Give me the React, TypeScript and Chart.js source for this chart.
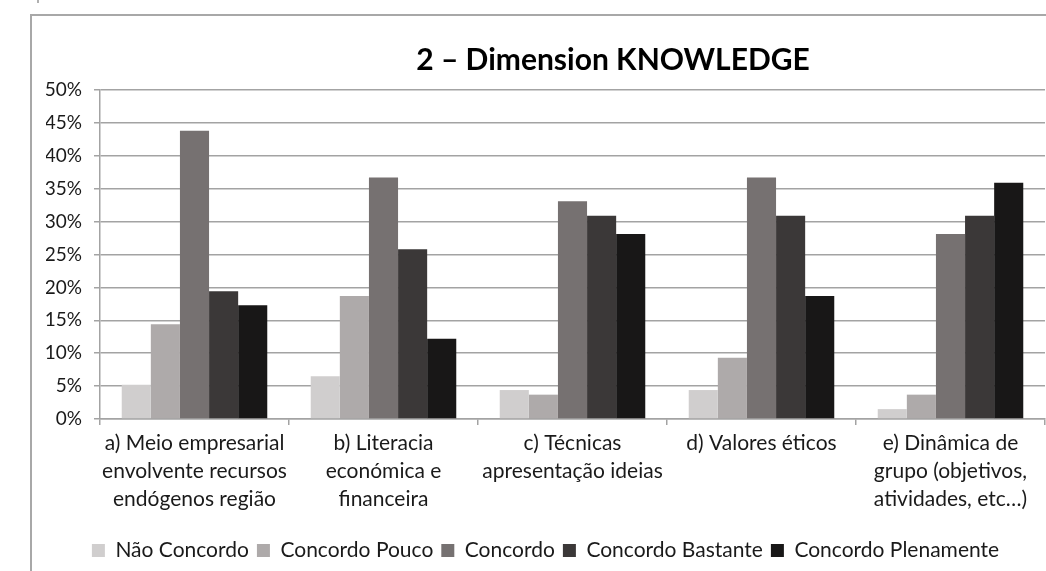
import React, { useEffect, useRef } from "react";
import { Chart, registerables } from "chart.js";

Chart.register(...registerables);

// ---- data ----
const categories: string[][] = [
  ["a) Meio empresarial", "envolvente recursos", "endógenos região"],
  ["b) Literacia", "económica e", "financeira"],
  ["c) Técnicas", "apresentação ideias"],
  ["d) Valores éticos"],
  ["e) Dinâmica de", "grupo (objetivos,", "atividades, etc…)"],
];
const seriesNames = [
  "Não Concordo",
  "Concordo Pouco",
  "Concordo",
  "Concordo Bastante",
  "Concordo Plenamente",
];
const naoConcordo = [5.2, 6.5, 4.4, 4.4, 1.5];
const concordoPouco = [14.4, 18.7, 3.7, 9.3, 3.7];
const concordo = [43.8, 36.7, 33.1, 36.7, 28.1];
const concordoBastante = [19.4, 25.8, 30.9, 30.9, 30.9];
const concordoPlenamente = [17.3, 12.2, 28.1, 18.7, 35.9];
const seriesValues = [naoConcordo, concordoPouco, concordo, concordoBastante, concordoPlenamente];
const seriesColors = ["#d0cece", "#aeaaaa", "#767171", "#3b3838", "#181717"];
const yMin = 0;
const yMax = 50;
const yStep = 5;
const titleText = "2 – Dimension KNOWLEDGE";

const FONT = "Lato, 'Open Sans', sans-serif";
const TEXT = "#1a1a1a";
const GRID = "#a3a3a3";
const TITLE_CENTER_X = 613;

const titleShift = {
  id: "titleShift",
  afterLayout(chart: any) {
    const t = chart.titleBlock;
    if (t) {
      const dx = TITLE_CENTER_X - (t.left + t.right) / 2;
      t.left += dx;
      t.right += dx;
    }
  },
};

export default function App() {
  const ref = useRef<HTMLCanvasElement | null>(null);

  useEffect(() => {
    if (!ref.current) return;
    const chart = new Chart(ref.current, {
      type: "bar",
      data: {
        labels: categories,
        datasets: seriesNames.map((name, i) => ({
          label: name,
          data: seriesValues[i],
          backgroundColor: seriesColors[i],
          borderWidth: 0,
          categoryPercentage: 0.77,
          barPercentage: 1,
        })),
      },
      options: {
        responsive: false,
        animation: false,
        devicePixelRatio: 1,
        layout: { padding: { left: 46, right: 1, top: 0, bottom: 0 } },
        plugins: {
          title: {
            display: true,
            text: titleText,
            color: "#000",
            font: { family: FONT, size: 30, weight: "bold", lineHeight: 1.2 },
            padding: { top: 42.5, bottom: 11.5 },
          },
          legend: {
            display: true,
            position: "bottom",
            align: "center",
            labels: {
              boxWidth: 13,
              boxHeight: 13,
              color: TEXT,
              padding: 8,
              font: { family: FONT, size: 21 },
            },
          },
          tooltip: { enabled: false },
        },
        scales: {
          x: {
            afterFit: (s: any) => {
              s.height = 113;
            },
            grid: {
              display: true,
              offset: true,
              drawOnChartArea: false,
              drawTicks: true,
              tickLength: 6,
              color: GRID,
              lineWidth: 1.5,
            },
            border: { display: true, color: GRID, width: 1.5 },
            ticks: {
              color: TEXT,
              padding: 4,
              maxRotation: 0,
              autoSkip: false,
              font: { family: FONT, size: 21, lineHeight: 1.33 },
            },
          },
          y: {
            min: yMin,
            max: yMax,
            afterFit: (s: any) => {
              s.width = 54;
            },
            grid: {
              color: GRID,
              lineWidth: 1.5,
              tickLength: 6,
              drawTicks: true,
            },
            border: { display: true, color: GRID, width: 1.5 },
            ticks: {
              stepSize: yStep,
              color: TEXT,
              padding: 12,
              font: { family: FONT, size: 19 },
              callback: (v: any) => v + "%",
            },
          },
        },
      },
      plugins: [titleShift],
    });
    return () => chart.destroy();
  }, []);

  return (
    <div
      style={{
        position: "fixed",
        left: 0,
        top: 0,
        width: 1046,
        height: 571,
        overflow: "hidden",
        background: "#fff",
      }}
    >
      <div
        style={{
          position: "absolute",
          left: 37,
          top: 0,
          width: 2,
          height: 3,
          background: "#b0b0b0",
        }}
      />
      <div
        style={{
          position: "absolute",
          left: 30,
          top: 14,
          width: 1200,
          height: 700,
          border: "2px solid #a8a8a8",
          boxSizing: "border-box",
        }}
      />
      <canvas
        ref={ref}
        width={1046}
        height={571}
        style={{ position: "absolute", left: 0, top: 0, width: 1046, height: 571 }}
      />
    </div>
  );
}
